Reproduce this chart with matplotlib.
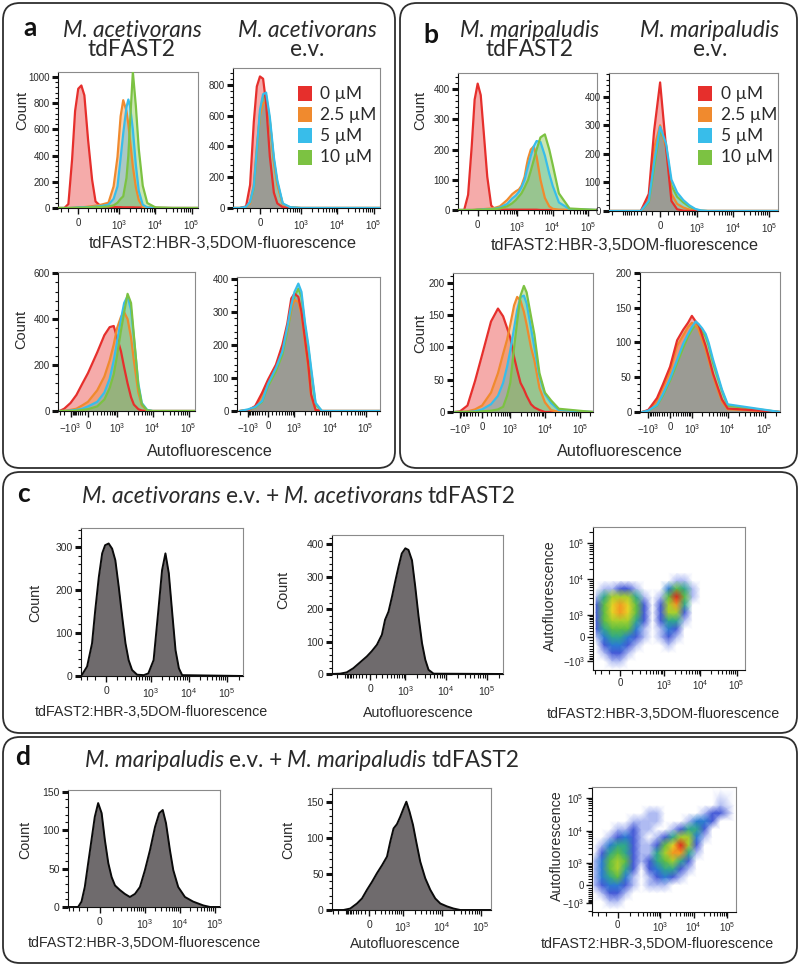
import numpy as np
import matplotlib
matplotlib.use('Agg')
import matplotlib.pyplot as plt
from matplotlib.patches import FancyBboxPatch, Rectangle
from matplotlib.colors import LinearSegmentedColormap
from matplotlib.ticker import FixedLocator, FixedFormatter, NullFormatter, MultipleLocator

# ----------------------------------------------------------------- data
conc_labels = ['0 µM', '2.5 µM', '5 µM', '10 µM']
conc_colors = ['#e62f2c', '#f08a2e', '#38bdea', '#7cc242']

# panel a, top left: M. acetivorans tdFAST2, tdFAST2:HBR-3,5DOM fluorescence
a_tl_x = [-250, -150, -100, -60, -30, 0, 30, 60, 100, 150, 200, 300, 500, 700, 900, 1100, 1300,
          1600, 1800, 2000, 2400, 2900, 3500, 4500, 6000, 10000, 30000, 150000]
a_tl_0 = [0, 0, 30, 370, 740, 910, 935, 860, 520, 215, 50, 12, 8, 8, 6, 6, 5, 5, 5, 5, 5, 4, 4, 3, 2, 1, 0, 0]
a_tl_25 = [0, 0, 0, 2, 3, 5, 6, 7, 10, 14, 18, 25, 40, 165, 390, 700, 823, 740, 640, 520, 316, 160, 60, 8, 2, 0, 0, 0]
a_tl_5 = [0, 0, 0, 1, 2, 4, 5, 5, 6, 8, 10, 15, 25, 70, 165, 380, 570, 770, 828, 780, 600, 330, 130, 25, 4, 0, 0, 0]
a_tl_10 = [0, 0, 0, 0, 1, 2, 2, 3, 4, 5, 6, 8, 12, 20, 40, 70, 89, 230, 400, 645, 1038, 780, 450, 170, 38, 5, 0, 0]

# panel a, top right: M. acetivorans e.v., tdFAST2:HBR-3,5DOM fluorescence
a_tr_x = [-400, -250, -150, -100, -60, -30, 0, 30, 60, 100, 150, 200, 300, 500, 1000, 10000, 150000]
a_tr_0 = [0, 0, 10, 150, 560, 790, 855, 840, 680, 335, 100, 30, 5, 0, 0, 0, 0]
a_tr_25 = [0, 0, 5, 30, 150, 400, 600, 680, 690, 560, 300, 150, 25, 3, 0, 0, 0]
a_tr_5 = [0, 0, 8, 40, 140, 380, 638, 740, 750, 590, 330, 180, 30, 5, 0, 0, 0]
a_tr_10 = [0, 0, 5, 35, 130, 360, 610, 720, 730, 570, 310, 165, 25, 4, 0, 0, 0]

# panel a, bottom left: M. acetivorans tdFAST2, autofluorescence
a_bl_x = [-3000, -2000, -1000, -500, -200, 0, 200, 400, 600, 800, 1000, 1300, 1600, 2000, 2500, 3000,
          4000, 5000, 7000, 10000, 20000, 150000]
a_bl_0 = [2, 10, 35, 70, 120, 165, 255, 330, 365, 370, 320, 260, 190, 120, 60, 28, 8, 2, 0, 0, 0, 0]
a_bl_25 = [0, 1, 5, 10, 25, 40, 90, 150, 220, 290, 360, 410, 430, 400, 320, 220, 80, 25, 3, 0, 0, 0]
a_bl_5 = [0, 0, 2, 5, 10, 20, 40, 80, 140, 220, 300, 400, 470, 500, 440, 320, 120, 35, 5, 0, 0, 0]
a_bl_10 = [0, 0, 0, 2, 5, 8, 20, 50, 100, 160, 240, 350, 430, 510, 470, 330, 110, 30, 3, 0, 0, 0]

# panel a, bottom right: M. acetivorans e.v., autofluorescence
a_br_x = [-2000, -1000, -500, -200, 0, 200, 400, 600, 800, 1000, 1300, 1600, 2000, 2500, 3000, 4000,
          6000, 10000, 250000]
a_br_0 = [0, 2, 15, 55, 95, 140, 200, 265, 340, 355, 345, 300, 220, 140, 50, 3, 0, 0, 0]
a_br_25 = [0, 2, 12, 45, 85, 130, 185, 250, 310, 335, 330, 290, 210, 130, 45, 3, 0, 0, 0]
a_br_5 = [0, 5, 12, 30, 82, 130, 180, 255, 320, 360, 385, 360, 270, 200, 130, 25, 0, 0, 0]
a_br_10 = [0, 3, 10, 28, 75, 120, 170, 240, 305, 345, 370, 345, 260, 190, 120, 20, 0, 0, 0]

# panel b, top left: M. maripaludis tdFAST2, tdFAST2:HBR-3,5DOM fluorescence
b_tl_x = [-250, -150, -100, -60, -30, 0, 30, 60, 100, 150, 200, 300, 500, 700, 900, 1100, 1300, 1600,
          1800, 2000, 2400, 2900, 3500, 4500, 6000, 8000, 10000, 15000, 30000, 180000]
b_tl_0 = [0, 0, 50, 210, 365, 418, 380, 260, 110, 15, 3, 1, 1, 1, 1, 1, 1, 1, 1, 1, 1, 1, 1, 0, 0, 0, 0, 0, 0, 0]
b_tl_25 = [0, 0, 0, 0, 1, 2, 3, 3, 4, 5, 7, 12, 33, 52, 62, 68, 80, 110, 144, 170, 200, 210, 177, 100, 40,
           12, 4, 1, 0, 0]
b_tl_5 = [0, 0, 0, 0, 0, 1, 1, 2, 2, 3, 4, 8, 20, 38, 48, 60, 75, 100, 125, 145, 180, 210, 228, 225, 180,
          120, 80, 25, 3, 0]
b_tl_10 = [0, 0, 0, 0, 0, 1, 1, 1, 2, 2, 3, 5, 12, 22, 33, 45, 55, 75, 88, 99, 130, 165, 200, 240, 250,
           200, 150, 55, 5, 0]

# panel b, top right: M. maripaludis e.v., tdFAST2:HBR-3,5DOM fluorescence
b_tr_x = [-2500, -1000, -500, -300, -150, -75, 0, 75, 150, 250, 400, 600, 900, 1300, 2000, 4000, 10000, 180000]
b_tr_0 = [0, 0, 0, 0, 60, 280, 450, 220, 35, 6, 1, 0, 0, 0, 0, 0, 0, 0]
b_tr_25 = [0, 0, 0, 0, 40, 220, 300, 220, 60, 25, 12, 5, 1, 0, 0, 0, 0, 0]
b_tr_5 = [0, 0, 0, 0, 35, 170, 295, 235, 110, 65, 38, 20, 7, 2, 0, 0, 0, 0]
b_tr_10 = [0, 0, 0, 0, 30, 150, 285, 230, 90, 50, 30, 15, 5, 1, 0, 0, 0, 0]

# panel b, bottom left: M. maripaludis tdFAST2, autofluorescence
b_bl_x = [-1500, -1000, -500, -200, 0, 200, 400, 600, 800, 1000, 1300, 1600, 2000, 2500, 3000, 4000,
          5000, 7000, 10000, 15000, 25000, 230000]
b_bl_0 = [0, 1, 10, 48, 88, 140, 160, 148, 130, 115, 85, 65, 45, 35, 25, 12, 7, 3, 0, 0, 0, 0]
b_bl_25 = [0, 0, 1, 4, 10, 30, 60, 90, 112, 135, 165, 178, 172, 155, 135, 100, 80, 37, 15, 3, 0, 0]
b_bl_5 = [0, 0, 0, 1, 4, 12, 25, 45, 70, 95, 130, 158, 178, 180, 168, 130, 100, 55, 28, 14, 3, 0]
b_bl_10 = [0, 0, 0, 0, 1, 2, 4, 8, 25, 45, 100, 140, 180, 195, 185, 148, 120, 60, 30, 18, 5, 0]

# panel b, bottom right: M. maripaludis e.v., autofluorescence
b_br_x = [-1500, -1000, -500, -250, 0, 250, 500, 750, 1000, 1300, 1600, 2000, 2500, 3000, 4000, 5000,
          7000, 10000, 260000]
b_br_0 = [0, 3, 20, 40, 65, 103, 118, 128, 138, 130, 125, 110, 95, 80, 55, 40, 18, 5, 0]
b_br_25 = [0, 2, 15, 35, 58, 95, 110, 122, 128, 125, 118, 104, 90, 75, 52, 36, 15, 4, 0]
b_br_5 = [0, 2, 10, 26, 48, 75, 98, 112, 122, 130, 126, 120, 112, 100, 75, 58, 32, 11, 0]
b_br_10 = [0, 2, 9, 24, 45, 70, 92, 108, 118, 125, 122, 116, 108, 96, 70, 54, 30, 9, 0]

# panel c: mixed culture M. acetivorans e.v. + tdFAST2
c_fl_x = [-290, -200, -135, -100, -65, -35, -10, 20, 50, 80, 115, 155, 200, 250, 315, 435, 660, 870,
          1200, 1600, 2000, 2450, 3000, 3700, 4500, 5500, 6700, 260000]
c_fl_y = [2, 22, 76, 153, 230, 285, 304, 308, 296, 269, 207, 138, 76, 37, 14, 3, 2, 6, 37, 153, 246,
          285, 239, 145, 60, 18, 2, 0]
c_af_x = [-3000, -1560, -900, -500, -250, -75, 25, 110, 200, 265, 345, 440, 540, 665, 810, 1000, 1200,
          1470, 1770, 2140, 2600, 3130, 3760, 5000, 250000]
c_af_y = [0, 1, 5, 18, 36, 54, 70, 90, 121, 167, 192, 238, 284, 330, 371, 387, 382, 350, 269, 177, 95,
          44, 13, 1, 0]
# dot-plot density (relative, 0-9) on a grid of fluorescence / autofluorescence values
c_dens_x = [-275, -150, -66, 0, 66, 150, 275, 473, 796, 1330, 2220, 3700, 6150, 10200, 28000, 169000]
c_dens_y = [-1660, -1000, -563, -254, 0, 277, 635, 1160, 1990, 3340, 5620, 9410, 15700, 43900, 263000]
c_dens = [
    [0, 0, 0, 0, 0, 0, 0, 0, 0, 0, 0, 0, 0, 0, 0, 0],
    [0, 0, 1, 1, 0, 0, 0, 0, 0, 0, 0, 0, 0, 0, 0, 0],
    [0, 1, 2, 2, 1, 0, 0, 0, 0, 0, 0, 0, 0, 0, 0, 0],
    [0, 2, 3, 3, 2, 1, 0, 0, 0, 1, 0, 0, 0, 0, 0, 0],
    [1, 3, 4, 4, 3, 2, 1, 0, 1, 2, 1, 0, 0, 0, 0, 0],
    [2, 4, 5, 5, 5, 3, 1, 0, 1, 3, 2, 0, 0, 0, 0, 0],
    [2, 5, 6, 6, 6, 4, 2, 0, 2, 4, 4, 1, 0, 0, 0, 0],
    [2, 5, 7, 8, 7, 5, 2, 0, 2, 6, 6, 2, 0, 0, 0, 0],
    [2, 5, 7, 8, 7, 5, 2, 0, 2, 6, 8, 4, 0, 0, 0, 0],
    [1, 4, 6, 6, 6, 4, 1, 0, 1, 5, 9, 5, 1, 0, 0, 0],
    [0, 1, 1, 2, 2, 1, 0, 0, 0, 3, 5, 4, 1, 0, 0, 0],
    [0, 0, 0, 0, 0, 0, 0, 0, 0, 0, 1, 1, 0, 0, 0, 0],
    [0, 0, 0, 0, 0, 0, 0, 0, 0, 0, 0, 0, 0, 0, 0, 0],
    [0, 0, 0, 0, 0, 0, 0, 0, 0, 0, 0, 0, 0, 0, 0, 0],
    [0, 0, 0, 0, 0, 0, 0, 0, 0, 0, 0, 0, 0, 0, 0, 0],
]

# panel d: mixed culture M. maripaludis e.v. + tdFAST2
d_fl_x = [-420, -207, -160, -122, -89, -61, -36, -12, 12, 35, 61, 89, 122, 182, 260, 370, 520, 725,
          1010, 1410, 1960, 2590, 3260, 4030, 5220, 6500, 9000, 14000, 24000, 47000, 73000, 140000]
d_fl_y = [0, 0, 7, 26, 57, 87, 117, 135, 122, 87, 57, 39, 28, 22, 17, 13, 17, 26, 48, 74, 104, 122, 126,
          109, 74, 48, 26, 13, 7, 2, 0, 0]
d_af_x = [-3200, -1200, -665, -343, -182, -54, 45, 131, 230, 348, 442, 551, 686, 840, 1036, 1224, 1485,
          1820, 2200, 2800, 3760, 5060, 6780, 9130, 13500, 19900, 29500, 180000]
d_af_y = [0, 0, 2, 9, 16, 28, 39, 51, 62, 74, 95, 113, 119, 129, 141, 150, 136, 118, 95, 67, 44, 28, 16,
          9, 5, 2, 0, 0]
d_dens_x = [-266, -143, -62, 0, 62, 143, 266, 472, 815, 1400, 2410, 4140, 7100, 12200, 21100, 36200,
            62100, 159000]
d_dens_y = [-1670, -810, -325, 0, 265, 615, 1165, 2090, 3690, 6480, 11300, 19800, 34700, 60300, 185000]
d_dens = [
    [0, 0, 0, 0, 0, 0, 0, 0, 0, 0, 0, 0, 0, 0, 0, 0, 0, 0],
    [0, 0, 1, 1, 0, 0, 0, 0, 0, 0, 0, 0, 0, 0, 0, 0, 0, 0],
    [0, 1, 2, 2, 1, 0, 0, 0, 0, 0, 0, 0, 0, 0, 0, 0, 0, 0],
    [1, 2, 3, 3, 2, 1, 0, 1, 1, 1, 0, 0, 0, 0, 0, 0, 0, 0],
    [1, 3, 4, 5, 3, 1, 0, 1, 2, 3, 2, 1, 0, 0, 0, 0, 0, 0],
    [1, 3, 5, 6, 4, 2, 0, 2, 3, 4, 4, 2, 1, 0, 0, 0, 0, 0],
    [1, 3, 5, 6, 5, 2, 1, 2, 4, 5, 6, 4, 2, 0, 0, 0, 0, 0],
    [0, 2, 4, 5, 4, 2, 1, 1, 4, 6, 8, 8, 4, 1, 0, 0, 0, 0],
    [0, 1, 3, 4, 4, 2, 1, 1, 2, 5, 7, 9, 6, 2, 0, 0, 0, 0],
    [0, 0, 1, 2, 3, 2, 1, 0, 1, 2, 4, 6, 6, 3, 1, 0, 0, 0],
    [0, 0, 0, 1, 1, 2, 1, 1, 0, 0, 1, 2, 4, 4, 2, 0, 0, 0],
    [0, 0, 0, 0, 0, 1, 1, 1, 1, 0, 0, 0, 1, 3, 3, 2, 0, 0],
    [0, 0, 0, 0, 0, 0, 0, 1, 1, 0, 0, 0, 0, 0, 1, 2, 2, 0],
    [0, 0, 0, 0, 0, 0, 0, 0, 0, 0, 0, 0, 0, 0, 0, 0, 1, 0],
    [0, 0, 0, 0, 0, 0, 0, 0, 0, 0, 0, 0, 0, 0, 0, 0, 0, 0],
]

# ----------------------------------------------------------------- style
W, H = 800, 966
plt.rcParams['font.family'] = ['Liberation Sans', 'DejaVu Sans']
plt.rcParams['mathtext.fontset'] = 'custom'
plt.rcParams['mathtext.rm'] = 'Liberation Sans'
plt.rcParams['mathtext.it'] = 'Liberation Sans:italic'
plt.rcParams['mathtext.bf'] = 'Liberation Sans:bold'
TITLE_FONT = ['Lato', 'Open Sans', 'DejaVu Sans']
TXT = '#2a2a2a'

fig = plt.figure(figsize=(W / 100, H / 100), dpi=100)


def rect(l, r, t, b):
    return [l / W, 1 - b / H, (r - l) / W, (b - t) / H]


def biex(c, s):
    def fwd(x):
        y = np.arcsinh(np.asarray(x, float) / c)
        return np.where(y < 0, y * s, y)

    def inv(y):
        y = np.asarray(y, float)
        y = np.where(y < 0, y / s, y)
        return c * np.sinh(y)
    return fwd, inv


def exp_label(v):
    if v == 0:
        return '0'
    e = int(round(np.log10(abs(v))))
    return (r'$-10^{%d}$' if v < 0 else r'$10^{%d}$') % e


def biex_axis(axis, lim, neg_label):
    majors = ([-1000] if neg_label else []) + [0, 1000, 10000, 100000]
    cand = sorted(set([-k * 10 ** n for k in range(1, 10) for n in (2, 3, 4)] +
                      [k * 10 ** n for k in range(1, 10) for n in (2, 3, 4)] + [200000]))
    minors = [v for v in cand if lim[0] < v < lim[1] and v not in majors]
    majors = [v for v in majors if lim[0] <= v <= lim[1]]
    axis.set_major_locator(FixedLocator(majors))
    axis.set_major_formatter(FixedFormatter([exp_label(v) for v in majors]))
    axis.set_minor_locator(FixedLocator(minors))
    axis.set_minor_formatter(NullFormatter())


def frame(ax):
    for k, sp in ax.spines.items():
        sp.set_linewidth(0.8)
        sp.set_color('#8a8a8a' if k in ('top', 'right') else '#111111')


def hist_axes(box, scale, xlim, ylim, ystep, neg_label, size=7.0):
    ax = fig.add_axes(rect(*box))
    ax.set_facecolor('none')
    ax.set_xscale('function', functions=biex(*scale))
    ax.set_xlim(*xlim)
    ax.set_ylim(*ylim)
    biex_axis(ax.xaxis, xlim, neg_label)
    ax.yaxis.set_major_locator(MultipleLocator(ystep))
    ax.yaxis.set_minor_locator(MultipleLocator(ystep / 5))
    ax.tick_params(axis='y', which='major', length=4.5, width=2.2, color='#111', labelsize=size,
                   pad=1.5, labelcolor=TXT)
    ax.tick_params(axis='y', which='minor', length=2.5, width=0.8, color='#111')
    ax.tick_params(axis='x', which='major', length=4, width=1.0, color='#111', labelsize=size,
                   pad=3.5, labelcolor=TXT)
    ax.tick_params(axis='x', which='minor', length=3, width=0.8, color='#111')
    frame(ax)
    return ax


def overlay(ax, x, curves, order):
    for k, i in enumerate(order):
        y, col = curves[i], conc_colors[i]
        ax.fill_between(x, 0, y, color=col, alpha=0.4, lw=0, zorder=2 + k * 0.01)
        ax.plot(x, y, color=col, lw=1.6, zorder=3 + k * 0.01, solid_joinstyle='round')


def gray_hist(ax, x, y):
    ax.fill_between(x, 0, y, color='#6f6b6d', lw=0, zorder=2)
    ax.plot(x, y, color='#0a0a0a', lw=1.4, zorder=3)


TD = [0, 1, 2, 3]      # drawing order for tdFAST2 strains
EV = [3, 1, 0, 2]      # drawing order for empty-vector strains

# ----- panel a
ax = hist_axes((58, 198, 72, 208), (150, 1.0), (-250, 1.5e5), (0, 1038), 200, False)
overlay(ax, a_tl_x, [a_tl_0, a_tl_25, a_tl_5, a_tl_10], TD)
ax = hist_axes((233, 380, 68, 208), (150, 1.0), (-400, 1.5e5), (0, 910), 200, False)
overlay(ax, a_tr_x, [a_tr_0, a_tr_25, a_tr_5, a_tr_10], EV)
ax = hist_axes((58, 195, 272, 411), (320, 0.6), (-3900, 1.5e5), (0, 605), 200, True)
overlay(ax, a_bl_x, [a_bl_0, a_bl_25, a_bl_5, a_bl_10], TD)
ax = hist_axes((237, 380, 277, 411), (380, 0.76), (-2600, 2.5e5), (0, 405), 100, True)
overlay(ax, a_br_x, [a_br_0, a_br_25, a_br_5, a_br_10], EV)

# ----- panel b
ax = hist_axes((458, 597, 73, 210), (150, 1.0), (-250, 1.8e5), (0, 453), 100, False)
overlay(ax, b_tl_x, [b_tl_0, b_tl_25, b_tl_5, b_tl_10], TD)
ax = hist_axes((609, 778, 73, 211), (190, 1.0), (-2500, 1.8e5), (0, 483), 100, False)
overlay(ax, b_tr_x, [b_tr_0, b_tr_25, b_tr_5, b_tr_10], EV)
ax = hist_axes((453, 593, 273, 412), (320, 0.78), (-1840, 2.37e5), (0, 215), 50, True)
overlay(ax, b_bl_x, [b_bl_0, b_bl_25, b_bl_5, b_bl_10], TD)
ax = hist_axes((640, 780, 272, 412), (550, 1.0), (-1750, 2.6e5), (0, 201), 50, True)
overlay(ax, b_br_x, [b_br_0, b_br_25, b_br_5, b_br_10], EV)

# ----- panel c / d histograms
ax = hist_axes((81, 243, 528, 676), (140, 1.0), (-305, 2.6e5), (0, 344), 100, False, 7.5)
gray_hist(ax, c_fl_x, c_fl_y)
ax = hist_axes((332, 503, 535, 674), (280, 0.7), (-3000, 2.5e5), (0, 428), 100, False, 7.5)
gray_hist(ax, c_af_x, c_af_y)
ax = hist_axes((68, 220, 790, 907), (105, 1.0), (-420, 1.4e5), (0, 152), 50, False, 7.5)
gray_hist(ax, d_fl_x, d_fl_y)
ax = hist_axes((332, 491, 788, 910), (280, 0.7), (-3200, 1.8e5), (0, 169), 50, False, 7.5)
gray_hist(ax, d_af_x, d_af_y)

# ----- dot plots (pseudocolour density)
flowjo = LinearSegmentedColormap.from_list('flowjo', [
    (0.0, '#ffffff'), (0.111, '#aebaf2'), (0.222, '#4358d6'), (0.333, '#2b7bd2'),
    (0.444, '#30a78c'), (0.556, '#5dbd44'), (0.667, '#a8d02e'), (0.778, '#e6d526'),
    (0.889, '#f39a22'), (1.0, '#e3231c')])


def dot_axes(box, xs, ys, xlim, ylim):
    ax = fig.add_axes(rect(*box))
    ax.set_facecolor('none')
    ax.set_xscale('function', functions=biex(*xs))
    ax.set_yscale('function', functions=biex(*ys))
    ax.set_xlim(*xlim)
    ax.set_ylim(*ylim)
    biex_axis(ax.xaxis, xlim, False)
    biex_axis(ax.yaxis, ylim, True)
    for a in ('x', 'y'):
        ax.tick_params(axis=a, which='major', length=4, width=1.0, color='#111', labelsize=7,
                       pad=2, labelcolor=TXT)
        ax.tick_params(axis=a, which='minor', length=3, width=0.8, color='#111')
    frame(ax)
    return ax


ax = dot_axes((593, 745, 527, 670), (125, 1.0), (520, 1.09), (-340, 1.7e5), (-1770, 2.82e5))
X, Y = np.meshgrid(c_dens_x, c_dens_y)
ax.pcolormesh(X, Y, np.array(c_dens, float), shading='gouraud', cmap=flowjo, vmin=0, vmax=9, zorder=1)
ax = dot_axes((592, 736, 787, 912), (110, 1.0), (450, 0.83), (-310, 1.81e5), (-2170, 2.12e5))
X, Y = np.meshgrid(d_dens_x, d_dens_y)
ax.pcolormesh(X, Y, np.array(d_dens, float), shading='gouraud', cmap=flowjo, vmin=0, vmax=9, zorder=1)

# ----------------------------------------------------------------- overlay: boxes & text
cv = fig.add_axes([0, 0, 1, 1], zorder=10)
cv.set_xlim(0, W)
cv.set_ylim(H, 0)
cv.axis('off')
cv.patch.set_alpha(0)

for (x0, y0, x1, y1) in [(3, 3, 395, 468), (400, 3, 797, 468), (3, 472, 797, 733), (3, 737, 797, 963)]:
    cv.add_patch(FancyBboxPatch((x0, y0), x1 - x0, y1 - y0, boxstyle='round,pad=0,rounding_size=17',
                                fill=False, lw=1.3, ec='#2e2e2e'))

TS = 16.3


def t(x, y, s, **kw):
    kw.setdefault('color', TXT)
    return cv.text(x, y, s, **kw)


# panel letters
for x, y, s in [(23, 36, 'a'), (423, 43, 'b'), (17, 502, 'c'), (15, 765, 'd')]:
    t(x, y, s, fontsize=19, fontweight='bold', family=TITLE_FONT, va='baseline', ha='left', color='#111')

# column titles
for x, sp, sub in [(132, 'M. acetivorans', 'tdFAST2'), (307, 'M. acetivorans', 'e.v.'),
                   (530, 'M. maripaludis', 'tdFAST2'), (710, 'M. maripaludis', 'e.v.')]:
    t(x, 37, sp, fontsize=TS, style='italic', family=TITLE_FONT, ha='center', va='baseline')
    t(x, 56, sub, fontsize=TS, family=TITLE_FONT, ha='center', va='baseline')

# mixed titles for c and d
renderer = fig.canvas.get_renderer()


def mixed(x, y, parts):
    gap = TS * 100 / 72 * 0.22
    for s, st in parts:
        tx = t(x, y, s, fontsize=TS, style=st, family=TITLE_FONT, ha='left', va='baseline')
        bb = tx.get_window_extent(renderer)
        x = bb.x1 + gap


mixed(82, 503, [('M. acetivorans', 'italic'), ('e.v. +', 'normal'), ('M. acetivorans', 'italic'),
                ('tdFAST2', 'normal')])
mixed(85, 767, [('M. maripaludis', 'italic'), ('e.v. +', 'normal'), ('M. maripaludis', 'italic'),
                ('tdFAST2', 'normal')])

# legends
for lx, tx0 in [(298, 320), (698, 721)]:
    for i, (lab, col) in enumerate(zip(conc_labels, conc_colors)):
        yc = 93.5 + i * 21.2
        cv.add_patch(Rectangle((lx, yc - 7.5), 14, 15, color=col, lw=0))
        t(tx0, yc, lab, fontsize=12.5, family=TITLE_FONT, ha='left', va='center')

# axis labels
FL = 'tdFAST2:HBR-3,5DOM-fluorescence'
AF = 'Autofluorescence'
t(223, 243, FL, fontsize=11.8, ha='center', va='center')
t(625, 245, FL, fontsize=11.8, ha='center', va='center')
t(210, 452, AF, fontsize=11.7, ha='center', va='center')
t(620, 452, AF, fontsize=11.7, ha='center', va='center')
t(151, 712, FL, fontsize=10.3, ha='center', va='center')
t(418, 713, AF, fontsize=10.3, ha='center', va='center')
t(663, 714, FL, fontsize=10.3, ha='center', va='center')
t(144, 943, FL, fontsize=10.3, ha='center', va='center')
t(405, 944, AF, fontsize=10.3, ha='center', va='center')
t(657, 944, FL, fontsize=10.3, ha='center', va='center')
t(550, 596, AF, fontsize=10.3, ha='center', va='center', rotation=90)
t(557, 846, AF, fontsize=10.3, ha='center', va='center', rotation=90)
for x, y, fs in [(22, 110, 10.5), (21, 329, 10.5), (420, 110, 10.5), (420, 333, 10.5),
                 (35, 603, 10.3), (283, 590, 10.3), (25, 840, 10.3), (288, 840, 10.3)]:
    t(x, y, 'Count', fontsize=fs, ha='center', va='center', rotation=90)

fig.savefig('out.png', dpi=100, facecolor='white')
